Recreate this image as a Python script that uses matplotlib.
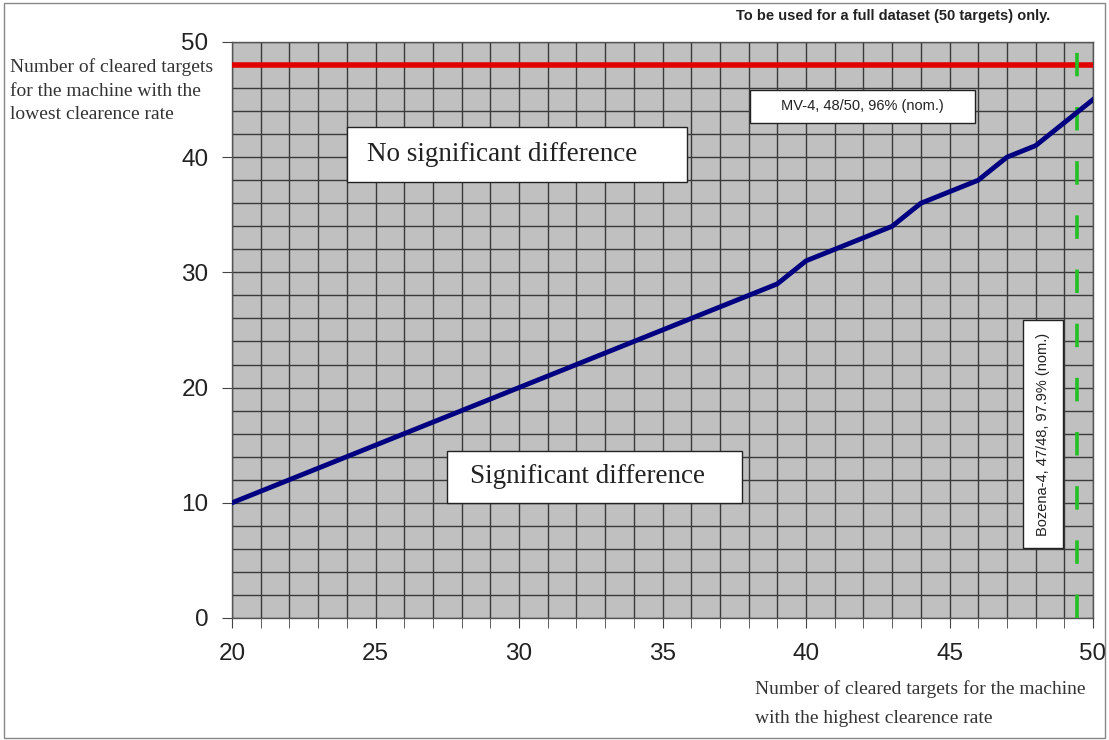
import matplotlib
matplotlib.use("Agg")
import matplotlib.pyplot as plt
from matplotlib.patches import Rectangle

# critical values: highest-rate machine count vs. lowest-rate machine count
x_high = [20, 21, 22, 23, 24, 25, 26, 27, 28, 29, 30, 31, 32, 33, 34, 35,
          36, 37, 38, 39, 40, 41, 42, 43, 44, 45, 46, 47, 48, 49, 50]
y_low = [10, 11, 12, 13, 14, 15, 16, 17, 18, 19, 20, 21, 22, 23, 24, 25,
         26, 27, 28, 29, 31, 32, 33, 34, 36, 37, 38, 40, 41, 43, 45]

mv4_level = 48        # MV-4, 48/50
bozena_level = 49.45  # Bozena-4, 47/48

x_ticks = [20, 25, 30, 35, 40, 45, 50]
y_ticks = [0, 10, 20, 30, 40, 50]

serif = ['Liberation Serif', 'DejaVu Serif']
sans = ['Liberation Sans', 'DejaVu Sans']

fig = plt.figure(figsize=(11.09, 7.40), dpi=100)
ax = fig.add_axes([0.2092, 0.1649, 0.7764, 0.7784])
ax.set_facecolor('#c0c0c0')

ax.set_xlim(20, 50)
ax.set_ylim(0, 50)
ax.set_xticks(x_ticks)
ax.set_yticks(y_ticks)
ax.set_xticks(range(20, 51), minor=True)
ax.set_yticks(range(0, 51, 2), minor=True)
ax.grid(which='both', color='#3a3a3a', linewidth=1.0)
ax.set_axisbelow(True)

ax.tick_params(axis='x', which='both', direction='out', length=7, color='#444444',
               labelsize=17.5, pad=11)
ax.tick_params(axis='y', which='major', direction='out', length=7, color='#444444',
               labelsize=17.5, pad=10)
ax.tick_params(axis='y', which='minor', length=0)
for lab in ax.get_xticklabels() + ax.get_yticklabels():
    lab.set_family(sans)
    lab.set_color('#222222')
for s in ax.spines.values():
    s.set_color('#555555')
    s.set_linewidth(1.0)

ax.plot(x_high, y_low, color='#000080', linewidth=3.5, solid_joinstyle='round',
        zorder=4)
ax.axhline(mv4_level, color='#e00000', linewidth=4.0, zorder=3)
ax.axvline(bozena_level, color='#22c022', linewidth=2.6, dashes=(6.5, 8.5),
           zorder=3)

# labelled boxes
boxes = [
    (24.01, 37.85, 11.84, 4.75, 'No significant difference', 24.7, 40.2,
     'left', 0, serif, 19.5),
    (27.49, 9.98, 10.28, 4.52, 'Significant difference', 28.3, 12.25,
     'left', 0, serif, 19.5),
    (38.05, 42.97, 7.84, 2.86, 'MV-4, 48/50, 96% (nom.)', 41.95, 44.4,
     'center', 0, sans, 10.5),
    (47.56, 6.08, 1.39, 19.79, 'Bozena-4, 47/48, 97.9% (nom.)', 48.26, 15.97,
     'center', 90, sans, 10.5),
]
for bx, by, bw, bh, txt, tx, ty, ha, rot, fam, fs in boxes:
    ax.add_patch(Rectangle((bx, by), bw, bh, facecolor='white',
                           edgecolor='#222222', linewidth=1.0, zorder=5))
    ax.text(tx, ty, txt, ha=ha, va='center', rotation=rot, family=fam,
            fontsize=fs, color='#222222', zorder=6)

fig.text(0.805, 0.979, 'To be used for a full dataset (50 targets) only.',
         ha='center', va='center', family=sans, fontsize=10.5, fontweight='bold',
         color='#222222')
fig.text(0.009, 0.877, 'Number of cleared targets\nfor the machine with the\n'
         'lowest clearence rate', ha='left', va='center', family=serif,
         fontsize=14, color='#333333', linespacing=1.5)
fig.text(0.681, 0.049, 'Number of cleared targets for the machine\n'
         'with the highest clearence rate', ha='left', va='center',
         family=serif, fontsize=14, color='#333333', linespacing=1.93)

fig.patches.append(Rectangle((0.004, 0.003), 0.992, 0.993, transform=fig.transFigure,
                             fill=False, edgecolor='#888888', linewidth=1.0))

fig.savefig('out.png', dpi=100)
